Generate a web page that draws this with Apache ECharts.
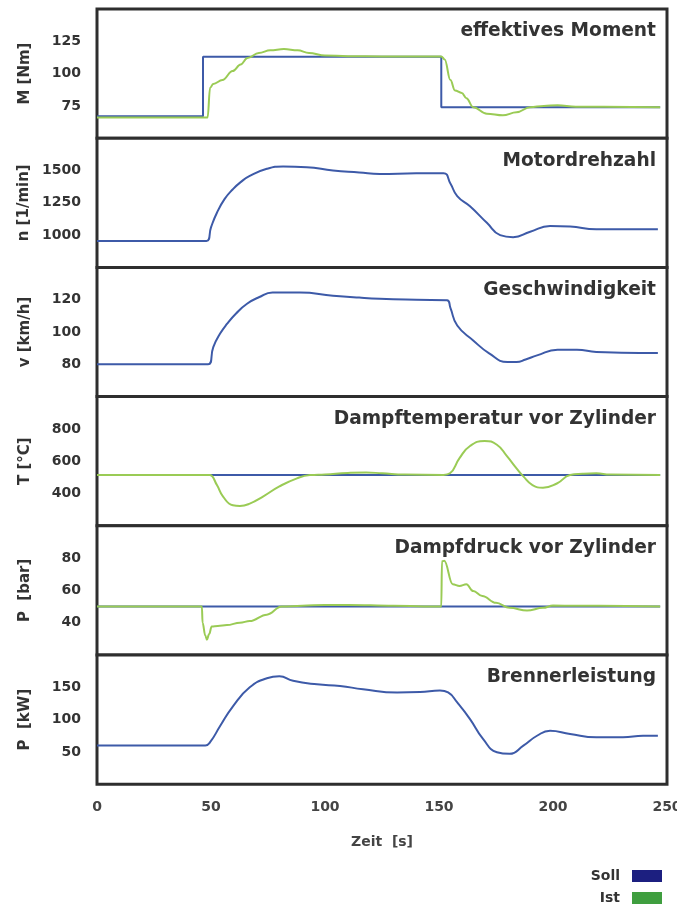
<!DOCTYPE html>
<html>
<head>
<meta charset="utf-8">
<script src="https://cdn.jsdelivr.net/npm/echarts@6/dist/echarts.min.js"></script>
<style>
  html, body { margin: 0; padding: 0; background: #fff; }
  #chart { width: 677px; height: 907px; }
</style>
</head>
<body>
<div id="chart"></div>
<script>
// Zeitachse
const xTicks = [0, 50, 100, 150, 200, 250];

// effektives Moment [Nm]
const momentSollT = [0, 46.5, 46.5, 151, 151, 247];
const momentSollV = [67, 67, 113, 113, 74, 74];
const momentIstT = [0, 48.5, 49.6, 51, 55, 59.5, 63, 66, 71, 76, 82, 88, 93, 100, 110, 125, 151, 152.5, 155, 157, 160, 162, 165, 171, 178, 184, 190, 196, 202, 210, 247];
const momentIstV = [66, 66, 89, 92, 95, 102, 107, 112, 116, 118, 119, 118, 116, 114, 113.5, 113.3, 113.3, 111, 95, 87, 85, 81, 74, 69, 67.7, 70, 74, 75, 75.5, 74.3, 74];

// Motordrehzahl [1/min]
const drehzahlT = [0, 48, 50, 52.6, 56, 59.6, 63, 67, 74.5, 81.6, 92, 103.5, 115, 124, 140, 152, 155, 158, 163.6, 171, 176.8, 182.5, 190, 198.7, 207.5, 219, 230, 246];
const drehzahlV = [955, 955, 1060, 1173, 1280, 1355, 1410, 1458, 1513, 1531, 1526, 1500, 1485, 1473, 1478, 1478, 1400, 1302, 1223, 1095, 1000, 984, 1026, 1071, 1066, 1045, 1045, 1045];

// Geschwindigkeit [km/h]
const geschwT = [0, 48.7, 51, 54, 57, 61, 65.8, 71, 77, 89, 103.5, 115, 124, 140, 153.5, 155, 158, 165, 172, 180, 184, 188, 193, 202, 210.5, 219, 230, 246];
const geschwV = [80, 80, 90.7, 99, 105, 111.5, 117.5, 121.5, 124.5, 124.5, 122.5, 121.3, 120.6, 120, 119.7, 115, 104, 94.8, 86.8, 81.4, 81.4, 83, 85.5, 89, 89, 87.6, 87.2, 87];

// Dampftemperatur vor Zylinder [°C]
const tempSollT = [0, 247];
const tempSollV = [515, 515];
const tempIstT = [0, 48.5, 49.6, 52.6, 55.3, 59.6, 62.7, 67, 72.8, 80, 87.7, 93.4, 100, 110, 118, 125, 135, 152, 154.8, 159, 163.6, 170, 175.4, 179.8, 184, 187, 191, 195.6, 201.7, 207.5, 213, 219, 225, 247];
const tempIstV = [515, 515, 514, 452, 381, 327, 323, 337, 381, 444, 494, 514, 518, 527, 530, 525, 517, 515, 525, 619, 694, 725, 702, 631, 556, 506, 452, 436, 462, 514, 522, 525, 517, 515];

// Dampfdruck vor Zylinder [bar]
const druckSollT = [0, 247];
const druckSollV = [50, 50];
const druckIstT = [0, 46, 46.3, 47.5, 48.2, 49.2, 50.3, 53, 57, 62.7, 67, 74.5, 81, 90, 100, 110, 130, 151, 151.3, 152.3, 156, 159, 162, 165, 169, 175, 181, 188.6, 195.6, 200, 210, 220, 247];
const druckIstV = [50, 50, 40, 32, 29.5, 33, 37.7, 38, 38.5, 40, 41, 45, 50, 50.5, 51, 51, 50.5, 50, 78, 78.3, 63.8, 62.7, 63.8, 59.6, 56.5, 52.3, 49.2, 47.5, 49.2, 50.6, 50.5, 50.5, 50];

// Brennerleistung [kW]
const leistungT = [0, 47.5, 49.6, 54, 59.7, 67, 74.5, 80, 86, 96.5, 106.6, 116.7, 131.6, 141.7, 150.4, 154, 158, 163.6, 169.3, 175.4, 181, 187, 193, 198.7, 207.5, 219, 230.7, 239.5, 246];
const leistungV = [60, 60, 65, 90, 121, 150, 164, 167, 160, 154.6, 152, 147, 142, 142.6, 145, 142, 126.5, 100.8, 70, 49.5, 47, 59.7, 75, 82.8, 77.7, 72.6, 72.6, 75, 75];

// Panel-Definitionen: Titel, Achsenname, Wertebereich
const panelTitles = ['effektives Moment', 'Motordrehzahl', 'Geschwindigkeit', 'Dampftemperatur vor Zylinder', 'Dampfdruck vor Zylinder', 'Brennerleistung'];
const axisNames = ['M [Nm]', 'n [1/min]', 'v [km/h]', 'T [°C]', 'P  [bar]', 'P  [kW]'];
const yMin = [50, 750, 60, 200, 20, 0];
const yMax = [150, 1750, 140, 1000, 100, 200];
const yStep = [25, 250, 20, 200, 20, 50];

const sollLines = [[momentSollT, momentSollV], [drehzahlT, drehzahlV], [geschwT, geschwV], [tempSollT, tempSollV], [druckSollT, druckSollV], [leistungT, leistungV]];
const istLines = [[momentIstT, momentIstV], null, null, [tempIstT, tempIstV], [druckIstT, druckIstV], null];
const sollStep = [true, false, false, true, true, false];
// Ist-Kurven mit senkrechten Sprüngen brauchen monotone Glättung
const istMonotone = [true, false, false, false, true, false];

const FONT = 'DejaVu Sans';
const SOLL_LINE = '#3d5aa8';
const IST_LINE = '#9acb55';
const SOLL_KEY = '#1c1f80';
const IST_KEY = '#3f9e3f';

const plotLeft = 97, plotRight = 10, plotTop = 9, panelH = 129.2;

const pairs = (t, v) => t.map((x, i) => [x, v[i]]);

const grids = [], xAxes = [], yAxes = [], series = [], titles = [];
for (let i = 0; i < 6; i++) {
  const top = plotTop + i * panelH;
  const last = i === 5;
  grids.push({
    left: plotLeft, right: plotRight, top: top, height: panelH,
    containLabel: false, outerBoundsMode: 'none',
    show: true, borderColor: '#2e2e2e', borderWidth: 3, backgroundColor: '#fff', z: 1
  });
  xAxes.push({
    gridIndex: i, type: 'value', min: xTicks[0], max: xTicks[xTicks.length - 1], interval: 50,
    axisLine: { show: false }, axisTick: { show: false },
    axisLabel: { show: last, margin: 16, fontFamily: FONT, fontWeight: 'bold', fontSize: 14, color: '#444',
      formatter: (v) => String(v) },
    splitLine: { show: true, lineStyle: { color: '#c4c4c4', width: 1 } },
    name: last ? 'Zeit  [s]' : '', nameLocation: 'middle', nameGap: 51,
    nameTextStyle: { fontFamily: FONT, fontWeight: 'bold', fontSize: 14, color: '#444' }
  });
  yAxes.push({
    gridIndex: i, type: 'value', min: yMin[i], max: yMax[i], interval: yStep[i],
    axisLine: { show: false }, axisTick: { show: false },
    axisLabel: { showMinLabel: false, showMaxLabel: false, margin: 16, fontFamily: FONT, fontWeight: 'bold', fontSize: 14, color: '#333',
      formatter: (v) => String(v) },
    splitLine: { show: true, lineStyle: { color: '#a9a9a9', width: 2 } },
    name: axisNames[i], nameLocation: 'middle', nameGap: 64,
    nameTextStyle: { fontFamily: FONT, fontWeight: 'bold', fontSize: 15, color: '#333' }
  });
  titles.push({
    text: panelTitles[i], right: 21, top: top + 13,
    padding: 0,
    textStyle: { fontFamily: FONT, fontWeight: 'bold', fontSize: 18.6, color: '#333' }
  });
  const s = sollLines[i];
  series.push({
    name: 'Soll', type: 'line', xAxisIndex: i, yAxisIndex: i,
    data: pairs(s[0], s[1]), showSymbol: false, symbol: 'none',
    smooth: sollStep[i] ? false : 0.5,
    itemStyle: { color: SOLL_KEY },
    lineStyle: { color: SOLL_LINE, width: 2 }, z: 3, animation: false
  });
  const g = istLines[i];
  if (g) {
    const ist = {
      name: 'Ist', type: 'line', xAxisIndex: i, yAxisIndex: i,
      data: pairs(g[0], g[1]), showSymbol: false, symbol: 'none',
      smooth: istMonotone[i] ? 0.4 : 0.5,
      itemStyle: { color: IST_KEY },
      lineStyle: { color: IST_LINE, width: 2 }, z: 4, animation: false
    };
    if (istMonotone[i]) ist.smoothMonotone = 'x';
    series.push(ist);
  }
}

// Legende rechts unten, je Eintrag eine Zeile
const legendBase = {
  orient: 'vertical', right: 15, align: 'right', padding: 0,
  itemWidth: 30, itemHeight: 12,
  textStyle: { fontFamily: FONT, fontWeight: 'bold', fontSize: 14, color: '#333', padding: [0, 7, 0, 0] }
};

const chart = echarts.init(document.getElementById('chart'), null, { renderer: 'canvas' });
chart.setOption({
  backgroundColor: '#fff',
  animation: false,
  title: titles,
  grid: grids,
  xAxis: xAxes,
  yAxis: yAxes,
  legend: [
    Object.assign({}, legendBase, { top: 869, data: [{ name: 'Soll', icon: 'rect' }] }),
    Object.assign({}, legendBase, { top: 891, data: [{ name: 'Ist', icon: 'rect' }] })
  ],
  series: series
});
</script>
</body>
</html>
